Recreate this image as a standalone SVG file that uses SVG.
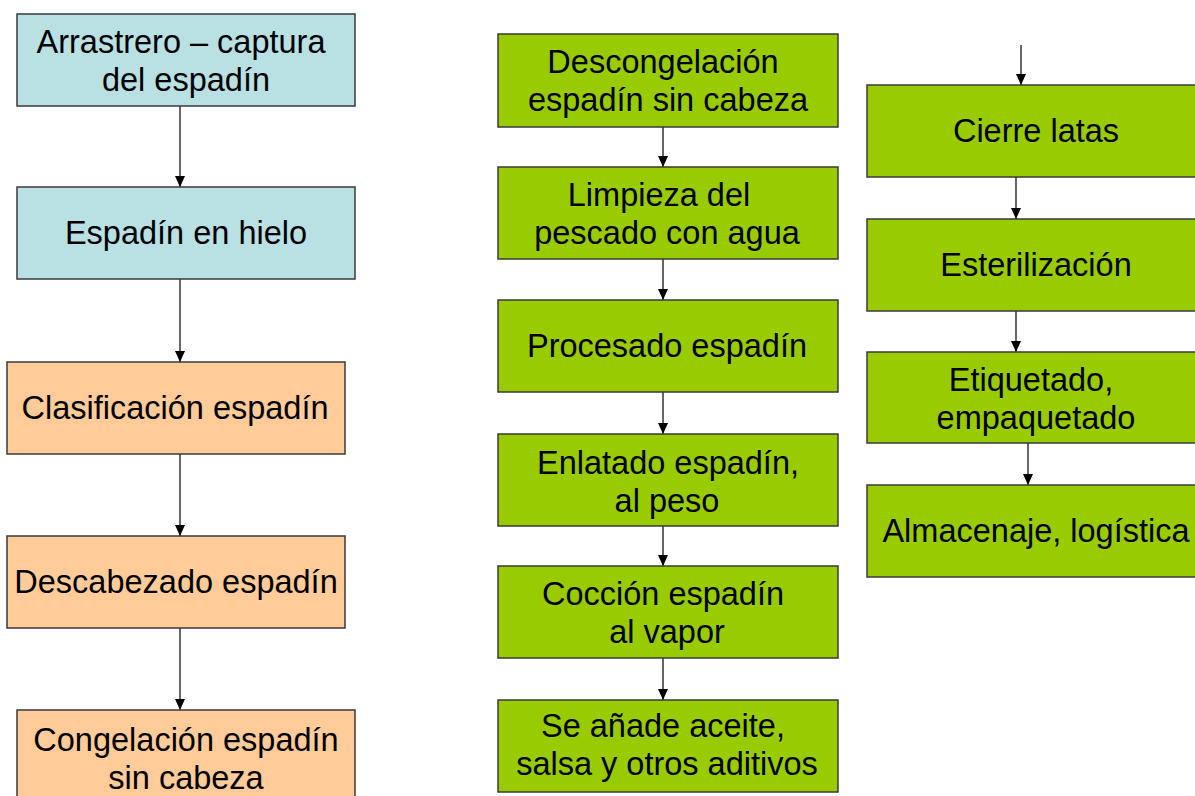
<svg xmlns="http://www.w3.org/2000/svg" width="1195" height="796" viewBox="0 0 1195 796">
<style>
  .box { stroke: #3a3a3a; stroke-width: 1.5; }
  .blue { fill: #B9E0E3; }
  .orange { fill: #FFCC99; }
  .green { fill: #99CC00; }
  text { font-family: "Liberation Sans", Arial, sans-serif; font-size: 32.5px; fill: #000; text-anchor: middle; }
  .conn { stroke: #000; stroke-width: 1.2; fill: none; marker-end: url(#arrow); }
</style>
<defs>
  <marker id="arrow" markerUnits="userSpaceOnUse" markerWidth="11" markerHeight="11" refX="11" refY="5.5" orient="auto">
    <path d="M0,0.5 L11,5.5 L0,10.5 z" fill="#000"/>
  </marker>
</defs>
<rect width="1195" height="796" fill="#fff"/>

<g id="connectors">
  <line class="conn" x1="180" y1="106" x2="180" y2="187"/>
  <line class="conn" x1="180" y1="279" x2="180" y2="362"/>
  <line class="conn" x1="180" y1="454" x2="180" y2="536"/>
  <line class="conn" x1="180" y1="628" x2="180" y2="710"/>
  <line class="conn" x1="663" y1="127" x2="663" y2="167"/>
  <line class="conn" x1="663" y1="259" x2="663" y2="300"/>
  <line class="conn" x1="663" y1="392" x2="663" y2="434"/>
  <line class="conn" x1="663" y1="526" x2="663" y2="566"/>
  <line class="conn" x1="663" y1="658" x2="663" y2="700"/>
  <line class="conn" x1="1021" y1="45" x2="1021" y2="85"/>
  <line class="conn" x1="1016" y1="177" x2="1016" y2="219"/>
  <line class="conn" x1="1016" y1="311" x2="1016" y2="352"/>
  <line class="conn" x1="1028" y1="443" x2="1028" y2="485"/>
</g>

<g id="n1">
  <rect class="box blue" x="17" y="14" width="338" height="92"/>
  <text x="181" y="53">Arrastrero – captura</text>
  <text x="186" y="91">del espadín</text>
</g>
<g id="n2">
  <rect class="box blue" x="17" y="187" width="338" height="92"/>
  <text x="186" y="244">Espadín en hielo</text>
</g>
<g id="n3">
  <rect class="box orange" x="7" y="362" width="338" height="92"/>
  <text x="175" y="419">Clasificación espadín</text>
</g>
<g id="n4">
  <rect class="box orange" x="7" y="536" width="338" height="92"/>
  <text x="176" y="593">Descabezado espadín</text>
</g>
<g id="n5">
  <rect class="box orange" x="17" y="710" width="338" height="92"/>
  <text x="186" y="751">Congelación espadín</text>
  <text x="186" y="789">sin cabeza</text>
</g>

<g id="g1">
  <rect class="box green" x="498" y="34" width="340" height="93"/>
  <text x="663" y="73">Descongelación</text>
  <text x="668" y="111">espadín sin cabeza</text>
</g>
<g id="g2">
  <rect class="box green" x="498" y="167" width="340" height="92"/>
  <text x="659" y="206">Limpieza del</text>
  <text x="667" y="244">pescado con agua</text>
</g>
<g id="g3">
  <rect class="box green" x="498" y="300" width="340" height="92"/>
  <text x="667" y="357">Procesado espadín</text>
</g>
<g id="g4">
  <rect class="box green" x="498" y="434" width="340" height="92"/>
  <text x="668" y="474">Enlatado espadín,</text>
  <text x="667" y="512">al peso</text>
</g>
<g id="g5">
  <rect class="box green" x="498" y="566" width="340" height="92"/>
  <text x="663" y="605">Cocción espadín</text>
  <text x="667" y="643">al vapor</text>
</g>
<g id="g6">
  <rect class="box green" x="498" y="700" width="340" height="92"/>
  <text x="663" y="737">Se añade aceite,</text>
  <text x="667" y="775">salsa y otros aditivos</text>
</g>

<g id="r1">
  <rect class="box green" x="867" y="85" width="340" height="92"/>
  <text x="1036" y="142">Cierre latas</text>
</g>
<g id="r2">
  <rect class="box green" x="867" y="219" width="340" height="92"/>
  <text x="1036" y="276">Esterilización</text>
</g>
<g id="r3">
  <rect class="box green" x="867" y="352" width="340" height="91"/>
  <text x="1031" y="391">Etiquetado,</text>
  <text x="1036" y="429">empaquetado</text>
</g>
<g id="r4">
  <rect class="box green" x="867" y="485" width="340" height="92"/>
  <text x="1036" y="542">Almacenaje, logística</text>
</g>
</svg>
